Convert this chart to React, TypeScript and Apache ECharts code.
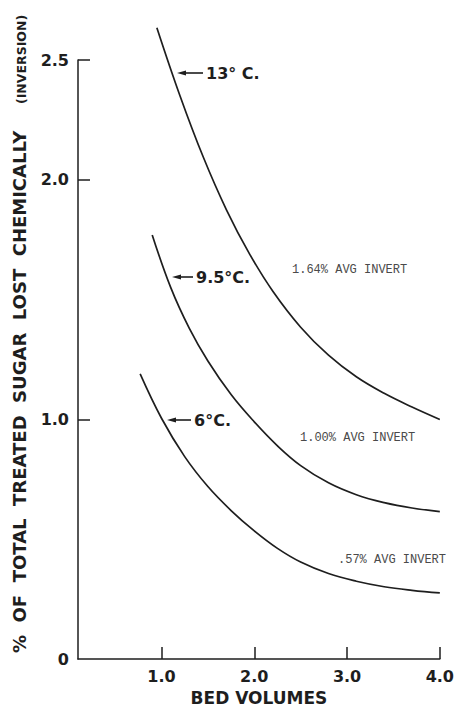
import React, { useEffect, useRef } from "react";
import * as echarts from "echarts";

// Bed volumes (x) vs % of total treated sugar lost chemically (y)
const curve13C: [number, number][] = [
  [0.95, 2.635], [1.2, 2.35], [1.45, 2.095], [1.7, 1.875], [1.95, 1.69], [2.2, 1.535],
  [2.5, 1.385], [2.8, 1.268], [3.1, 1.178], [3.4, 1.109], [3.7, 1.052], [4.0, 1.0],
];
const curve95C: [number, number][] = [
  [0.9, 1.77], [1.1, 1.55], [1.3, 1.38], [1.5, 1.244], [1.75, 1.104], [2.0, 0.99],
  [2.25, 0.89], [2.5, 0.8075], [2.8, 0.7355], [3.1, 0.686], [3.4, 0.653], [3.7, 0.6305], [4.0, 0.6155],
];
const curve6C: [number, number][] = [
  [0.77, 1.19], [1.0, 1.005], [1.25, 0.845], [1.5, 0.72], [1.75, 0.62], [2.0, 0.535],
  [2.25, 0.462], [2.5, 0.405], [2.8, 0.357], [3.1, 0.325], [3.4, 0.302], [3.7, 0.287], [4.0, 0.276],
];
const xTicks = [1, 2, 3, 4];
const yLabelValues = [0, 1, 2, 2.5];
const yTickValues = [1, 2, 2.5];
const tempLabels = ["13° C.", "9.5°C.", "6°C."];
const invertLabels = ["1.64% AVG INVERT", "1.00% AVG INVERT", ".57% AVG INVERT"];
const yTitle = "%  OF  TOTAL  TREATED  SUGAR  LOST  CHEMICALLY";
const yTitleSub = "(INVERSION)";

const INK = "#1e1e1e";
const SANS = "DejaVu Sans";

function arrowLabel(tipX: number, y: number, tailX: number, textX: number, text: string) {
  return [
    { type: "line", shape: { x1: tipX + 7, y1: y, x2: tailX, y2: y }, style: { stroke: INK, lineWidth: 1.6 } },
    {
      type: "polygon",
      shape: { points: [[tipX, y], [tipX + 9, y - 2.6], [tipX + 9, y + 2.6]] },
      style: { fill: INK },
    },
    {
      type: "text",
      x: textX,
      y: y,
      style: { text, fill: INK, font: `bold 16px '${SANS}'`, align: "left", verticalAlign: "middle" },
    },
  ];
}

function invertText(x: number, y: number, text: string) {
  return {
    type: "text",
    x,
    y,
    style: { text, fill: "#4a4a4a", font: "12px 'Liberation Mono'", align: "left", verticalAlign: "middle" },
  };
}

export default function App() {
  const ref = useRef<HTMLDivElement>(null);
  useEffect(() => {
    if (!ref.current) return;
    const chart = echarts.init(ref.current, undefined, { renderer: "svg" });
    const lineSeries = (name: string, data: [number, number][]) => ({
      type: "line",
      name,
      data,
      smooth: 0.4,
      showSymbol: false,
      clip: false,
      lineStyle: { color: INK, width: 1.7 },
    });
    chart.setOption({
      animation: false,
      backgroundColor: "#ffffff",
      grid: { left: 78, top: 60, width: 363, height: 607 },
      xAxis: {
        type: "value",
        min: 0.1,
        max: 4.0,
        axisLine: { show: true, lineStyle: { color: INK, width: 1.5 } },
        axisTick: { show: true, inside: true, length: 12, customValues: xTicks, lineStyle: { color: INK, width: 1.5 } },
        axisLabel: {
          customValues: xTicks,
          formatter: (v: number) => v.toFixed(1),
          color: INK,
          fontFamily: SANS,
          fontWeight: "bold",
          fontSize: 16,
          margin: 9,
        },
        splitLine: { show: false },
        name: "BED VOLUMES",
        nameLocation: "middle",
        nameGap: 29,
        nameTextStyle: { color: INK, fontFamily: SANS, fontWeight: "bold", fontSize: 17 },
      },
      yAxis: {
        type: "value",
        min: 0,
        max: 2.5,
        axisLine: { show: true, lineStyle: { color: INK, width: 1.5 } },
        axisTick: { show: true, inside: true, length: 12, customValues: yTickValues, lineStyle: { color: INK, width: 1.5 } },
        axisLabel: {
          customValues: yLabelValues,
          formatter: (v: number) => (v === 0 ? "0" : v.toFixed(1)),
          color: INK,
          fontFamily: SANS,
          fontWeight: "bold",
          fontSize: 16,
          margin: 9,
        },
        splitLine: { show: false },
      },
      series: [
        lineSeries("13°C", curve13C),
        lineSeries("9.5°C", curve95C),
        lineSeries("6°C", curve6C),
      ],
      graphic: [
        {
          type: "text",
          x: 28,
          y: 653,
          rotation: Math.PI / 2,
          style: {
            text: yTitle,
            fill: INK,
            font: `bold 18px '${SANS}'`,
            align: "left",
            verticalAlign: "bottom",
          },
        },
        {
          type: "text",
          x: 28,
          y: 104,
          rotation: Math.PI / 2,
          style: {
            text: yTitleSub,
            fill: INK,
            font: `bold 12.5px '${SANS}'`,
            align: "left",
            verticalAlign: "bottom",
          },
        },
        ...arrowLabel(177, 73, 203, 206, tempLabels[0]),
        ...arrowLabel(172, 277, 193, 196, tempLabels[1]),
        ...arrowLabel(167, 420, 191, 194, tempLabels[2]),
        invertText(292, 270, invertLabels[0]),
        invertText(300, 438, invertLabels[1]),
        invertText(338, 560, invertLabels[2]),
      ],
    });
    return () => chart.dispose();
  }, []);
  return (
    <div
      ref={ref}
      style={{ position: "fixed", left: 0, top: 0, width: 457, height: 711, background: "#fff" }}
    />
  );
}
